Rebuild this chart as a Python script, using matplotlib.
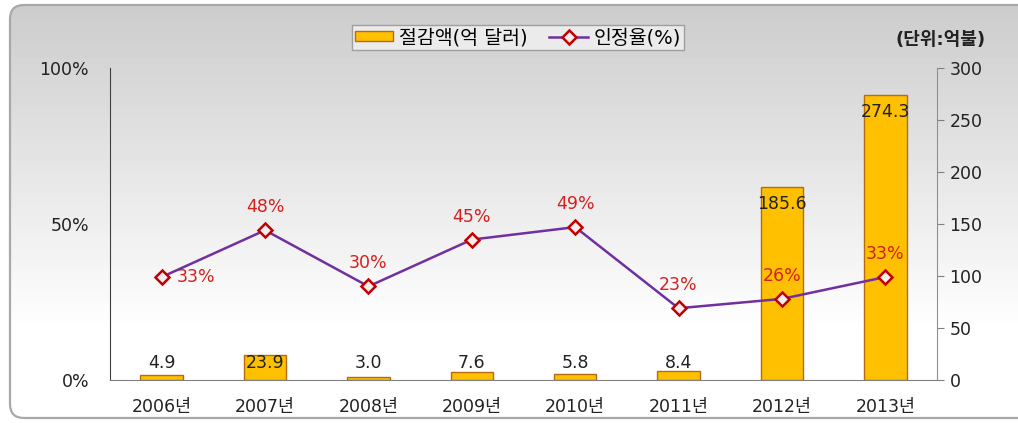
import numpy as np
import matplotlib
matplotlib.use('Agg')
import matplotlib.pyplot as plt
from matplotlib.patches import FancyBboxPatch, Patch
from matplotlib.lines import Line2D

plt.rcParams['font.family'] = ['DejaVu Sans', 'Noto Sans CJK KR']

# data
years = ['2006년', '2007년', '2008년', '2009년', '2010년', '2011년', '2012년', '2013년']
savings = [4.9, 23.9, 3.0, 7.6, 5.8, 8.4, 185.6, 274.3]      # 절감액 (억 달러)
rates = [33, 48, 30, 45, 49, 23, 26, 33]                      # 인정율 (%)
bar_labels = ['4.9', '23.9', '3.0', '7.6', '5.8', '8.4', '185.6', '274.3']

bar_color = '#ffc000'
bar_edge = '#b86a10'
line_color = '#7030a0'
marker_edge = '#c00000'
label_red = '#d42020'
text_color = '#222222'

W, H = 1018, 423
fig = plt.figure(figsize=(W / 100, H / 100), dpi=100)

# background panel with vertical gradient
bg = fig.add_axes([0, 0, 1, 1], zorder=-10)
bg.set_xlim(0, W)
bg.set_ylim(H, 0)
bg.axis('off')
ys = np.arange(H)
g = np.clip(0.80 + 0.20 * (ys - 5) / 325.0, 0.80, 1.0)
grad = np.repeat(g[:, None], 2, axis=1)
frame = FancyBboxPatch((10, 5), 1040, 413, boxstyle='round,pad=0,rounding_size=14',
                       facecolor='none', edgecolor='#a8a8a8', linewidth=1.6)
bg.add_patch(frame)
im = bg.imshow(grad, cmap='gray', vmin=0, vmax=1, extent=[0, W, H, 0], aspect='auto')
im.set_clip_path(frame)

x = np.arange(len(years))

ax = fig.add_axes([110 / W, 1 - 380 / H, 827 / W, 312 / H])
ax.patch.set_visible(False)
ax2 = ax.twinx()

# bars on right axis
ax2.bar(x, savings, width=0.41, color=bar_color, edgecolor=bar_edge, linewidth=1.0)
ax2.set_ylim(0, 300)
ax2.set_yticks(range(0, 301, 50))
ax2.tick_params(axis='y', direction='out', length=5, color='#808080', pad=4,
                labelsize=12.5, labelcolor=text_color)

for xi, v, lab in zip(x, savings, bar_labels):
    if v > 30:
        ax2.annotate(lab, (xi, v), xytext=(0, -12.3), textcoords='offset points',
                     ha='center', va='center', fontsize=12.5, color=text_color)
    else:
        ax2.annotate(lab, (xi, 0), xytext=(0, 12.3), textcoords='offset points',
                     ha='center', va='center', fontsize=12.5, color=text_color)

# line on left axis, drawn above bars
ax.set_zorder(ax2.get_zorder() + 1)
ax.plot(x, [r / 100 for r in rates], color=line_color, linewidth=1.8, marker='D',
        markersize=7, markerfacecolor='#f6ecee', markeredgecolor=marker_edge,
        markeredgewidth=1.8, zorder=5)
for i, (xi, r) in enumerate(zip(x, rates)):
    if i == 0:
        ax.annotate(f'{r}%', (xi, r / 100), xytext=(11, 0), textcoords='offset points',
                    ha='left', va='center', fontsize=12.5, color=label_red)
    else:
        ax.annotate(f'{r}%', (xi, r / 100), xytext=(0, 16.5), textcoords='offset points',
                    ha='center', va='center', fontsize=12.5, color=label_red)

ax.set_xlim(-0.5, len(years) - 0.5)
ax.set_ylim(0, 1)
ax.set_yticks([0, 0.5, 1.0])
ax.set_yticklabels(['0%', '50%', '100%'])
ax.tick_params(axis='y', length=0, pad=15, labelsize=12.5, labelcolor=text_color)
ax.set_xticks(x)
ax.set_xticklabels(years)
ax.tick_params(axis='x', length=0, pad=13, labelsize=12.5, labelcolor=text_color)

for a in (ax, ax2):
    a.spines['top'].set_visible(False)
ax.spines['right'].set_visible(False)
ax.spines['left'].set_color('#404040')
ax.spines['bottom'].set_color('#808080')
ax2.spines['left'].set_visible(False)
ax2.spines['bottom'].set_visible(False)
ax2.spines['right'].set_color('#909090')

# legend
handles = [Patch(facecolor=bar_color, edgecolor=bar_edge, label='절감액(억 달러)'),
           Line2D([0], [0], color=line_color, lw=1.8, marker='D', markersize=7,
                  markerfacecolor='#f6ecee', markeredgecolor=marker_edge,
                  markeredgewidth=1.8, label='인정율(%)')]
leg = fig.legend(handles=handles, loc='center', bbox_to_anchor=(518 / W, 1 - 37.5 / H),
                 ncol=2, fontsize=14, frameon=True, fancybox=False, handlelength=2.0,
                 handleheight=0.4, columnspacing=1.1, handletextpad=0.3,
                 borderpad=0.15, borderaxespad=0)
leg.get_frame().set_facecolor('#f2f2f2')
leg.get_frame().set_edgecolor('#909090')
leg.get_frame().set_linewidth(1.0)

fig.text(941 / W, 1 - 40 / H, '(단위:억불)', ha='center', va='center',
         fontsize=13, fontweight='bold', color=text_color)

fig.savefig('out.png', dpi=100)
